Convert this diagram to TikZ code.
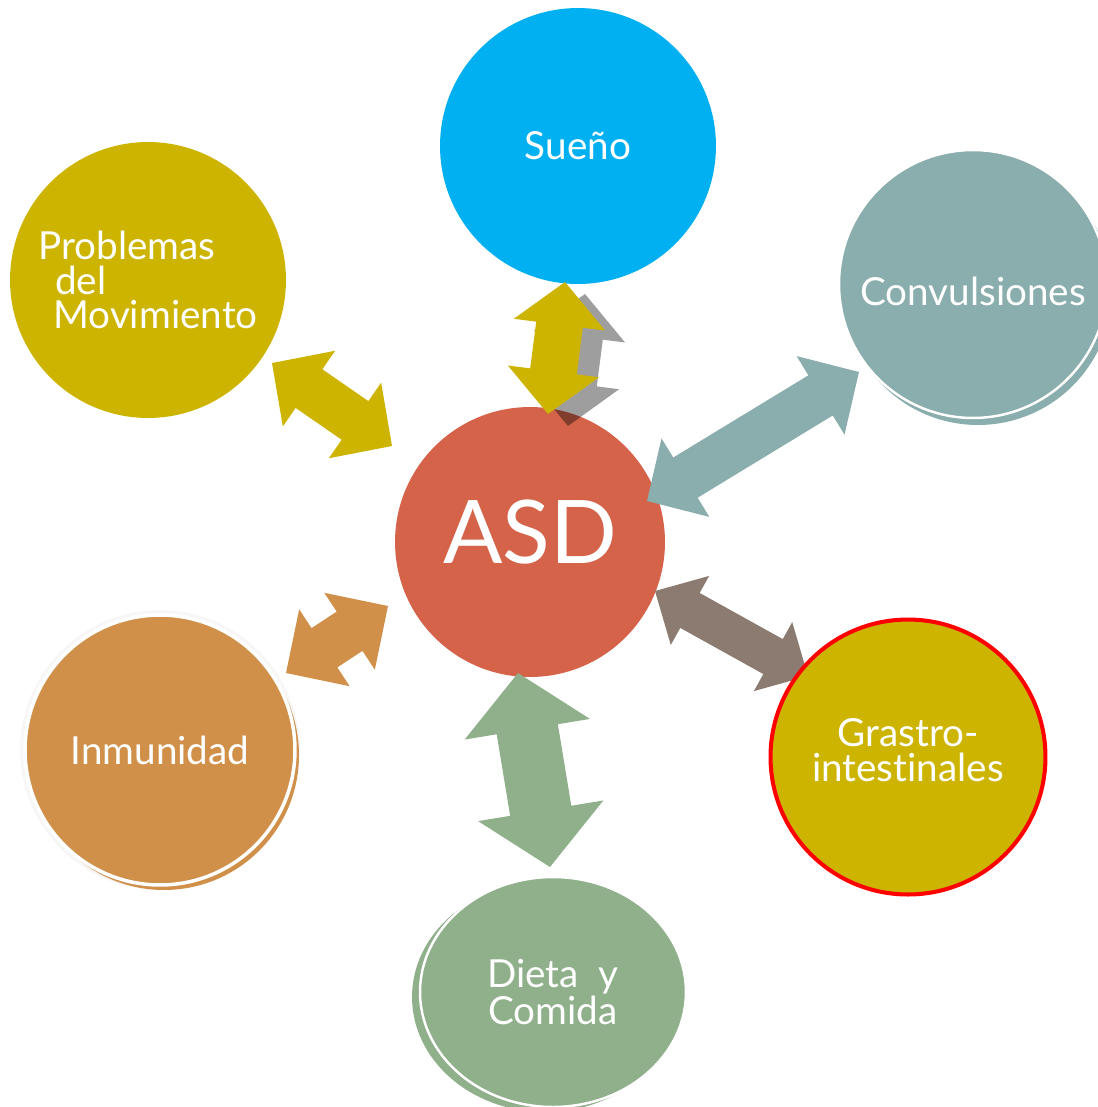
\documentclass[tikz,border=0pt]{standalone}
\usepackage{fontspec}
\setmainfont{Lato}[Ligatures=NoCommon]
\usetikzlibrary
  {
    calc,             % corners of the block arrows
    backgrounds,      % crescents behind the circles
    shapes.geometric, % ellipse
  }

\definecolor{suenoblue}{HTML}{00B0F0}
\definecolor{movolive}{HTML}{CCB400}
\definecolor{convteal}{HTML}{8AADAD}
\definecolor{asdred}{HTML}{D4634A}
\definecolor{inmorange}{HTML}{D0904A}
\definecolor{dietgreen}{HTML}{8FB08A}
\definecolor{gasbrown}{HTML}{8C7B70}

\tikzset{
  bubble/.style={circle, inner sep=0, outer sep=0, minimum size=#1, text=white,
                 align=center, font=\fontsize{22}{19.5}\selectfont},
  rim/.style={draw=white, line width=1.4pt},
  softshadow/.style={preaction={fill=black, opacity=#1, transform canvas={shift={(20,12)}}}},
}

% double block arrow: options, tip, tip, shaft half width, head half width, head length
\newcommand\dblarrow[6]{%
  \fill[#1] (#2) -- ($(#2)!#6!(#3)!#5!90:(#3)$) -- ($(#2)!#6!(#3)!#4!90:(#3)$)
    -- ($(#3)!#6!(#2)!#4!-90:(#2)$) -- ($(#3)!#6!(#2)!#5!-90:(#2)$) -- (#3)
    -- ($(#3)!#6!(#2)!#5!90:(#2)$) -- ($(#3)!#6!(#2)!#4!90:(#2)$)
    -- ($(#2)!#6!(#3)!#4!-90:(#3)$) -- ($(#2)!#6!(#3)!#5!-90:(#3)$) -- cycle;}

\begin{document}
\begin{tikzpicture}[x=0.02cm, y=-0.02cm]
  \useasboundingbox (0,0) rectangle (1098,1107);

  \node (sueno) [bubble=5.52cm, fill=suenoblue] at (578,146) {Sueño};
  \node (mov) [bubble=5.52cm, fill=movolive, align=left] at (148,280)
    {Problemas\\\hspace*{0.34cm}del\\\hspace*{0.3cm}Movimiento};
  \node (conv) [bubble=5.36cm, fill=convteal, rim, text height=25pt] at (973,284) {Convulsiones};
  \node (asd) [bubble=5.4cm, fill=asdred, font=\fontsize{50}{50}\selectfont,
               text depth=0.4cm] at (530,542) {ASD};
  \node (inm) [bubble=5.4cm, fill=inmorange, rim, line width=2pt] at (160,750) {Inmunidad};
  \node (diet) [ellipse, inner sep=0, outer sep=0, minimum width=5.32cm, minimum height=4.6cm,
                fill=dietgreen, rim, text=white, align=center,
                font=\fontsize{22}{19.5}\selectfont] at (553,992) {Dieta\ \ y\\Comida};

  \begin{pgfonlayer}{background}
    \fill[convteal] ([shift={(5,7)}]conv.center) circle [radius=2.68cm];
    \fill[black!3] (inm.center) circle [radius=2.8cm];
    \fill[inmorange] ([shift={(4,5)}]inm.center) circle [radius=2.7cm];
    \fill[dietgreen] ([shift={(-8,5)}]diet.center) ellipse [x radius=2.66cm, y radius=2.3cm];
  \end{pgfonlayer}

  % arrow tips
  \coordinate (s1) at (565,282);  \coordinate (e1) at (548,414);
  \coordinate (s2) at (272,363);  \coordinate (e2) at (392,446);
  \coordinate (s3) at (859,372);  \coordinate (e3) at (647,501);
  \coordinate (s4) at (655,591);  \coordinate (e4) at (808,676);
  \coordinate (s5) at (388,606);  \coordinate (e5) at (286,673);
  \coordinate (s6) at (518,673);  \coordinate (e6) at (550,867);

  \dblarrow{movolive, softshadow=.38}{s1}{e1}{.47cm}{.92cm}{.86cm}
  \dblarrow{movolive}{s2}{e2}{.47cm}{.92cm}{.9cm}
  \dblarrow{convteal}{s3}{e3}{.47cm}{.92cm}{.9cm}
  \dblarrow{gasbrown}{s4}{e4}{.4cm}{.79cm}{.8cm}
  \dblarrow{inmorange}{s5}{e5}{.47cm}{.92cm}{.92cm}
  \dblarrow{dietgreen}{s6}{e6}{.62cm}{1.27cm}{1.14cm}

  \node (gas) [bubble=5.5cm, fill=movolive, draw=red, line width=2.3pt, text depth=8pt]
    at (908,757) {Grastro-\\intestinales};
\end{tikzpicture}
\end{document}
